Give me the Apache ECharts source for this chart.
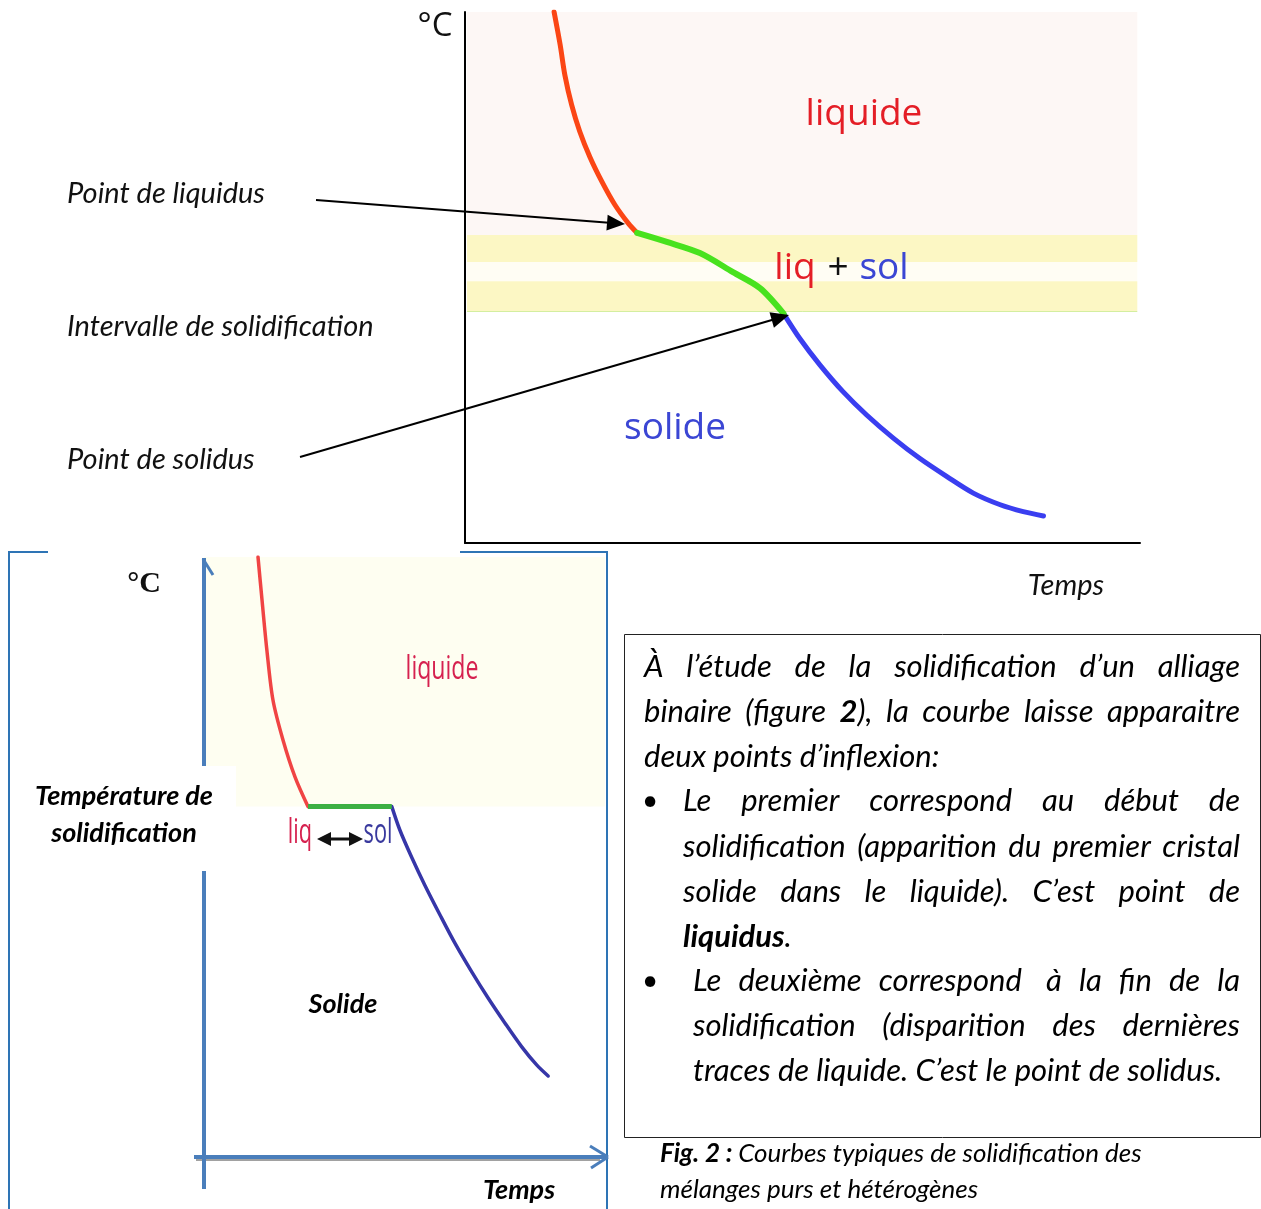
<!DOCTYPE html>
<html><head><meta charset="utf-8">
<script src="https://cdn.jsdelivr.net/npm/echarts@6/dist/echarts.min.js"></script>
<style>html,body{margin:0;padding:0;background:#fff}#c{width:1261px;height:1209px}</style>
</head><body><div id="c"></div>
<script>
// ---- data: top chart (alliage, time 0..100, temperature 0..100) ----
const topLiquidX = [13.2, 14.1, 14.8, 15.8, 17.0, 18.5, 20.3, 22.2, 24.2, 25.5];
const topLiquidT = [100, 93.8, 88.1, 82.5, 77.5, 72.7, 68.0, 63.7, 60.2, 58.4];
const topMixX = [25.5, 29.9, 34.8, 39.7, 43.7, 47.2];
const topMixT = [58.4, 56.7, 54.6, 51.0, 48.0, 43.2];
const topSolidX = [47.2, 49.6, 52.6, 56.0, 59.5, 63.5, 67.4, 71.4, 75.3, 79.3, 82.7, 85.7];
const topSolidT = [43.2, 38.5, 33.5, 28.5, 24.1, 19.7, 15.9, 12.5, 9.4, 7.2, 5.9, 5.1];
const topLiquidZone = [58.0, 100];
const topBandA = [52.9, 58.0];
const topGap = [49.3, 52.9];
const topBandB = [43.7, 49.3];
// ---- data: bottom chart (corps pur) ----
const botLiquidX = [13.4, 14.4, 15.6, 17.1, 19.6, 22.6, 25.8];
const botLiquidT = [100, 92.8, 84.5, 76.2, 69.5, 63.3, 58.4];
const botPlateauX = [25.8, 46.6];
const botPlateauT = [58.4, 58.4];
const botSolidX = [46.6, 48.6, 51.5, 54.8, 58.6, 62.3, 66.4, 70.5, 74.7, 78.8, 82.6, 85.4];
const botSolidT = [58.4, 54.5, 50.0, 45.3, 40.3, 35.6, 30.9, 26.5, 22.3, 18.4, 15.3, 13.5];
const botLiquidZone = [58.4, 100];

const zip = (xs, ys) => xs.map((x, i) => [x, ys[i]]);

const chart = echarts.init(document.getElementById('c'), null, {renderer: 'canvas'});

const ctx = document.createElement('canvas').getContext('2d');
function tw(t, font) { ctx.font = font; return ctx.measureText(t).width; }

const IT = 'italic 31px Lato';
const ITB = 'italic bold 31px Lato';
const g = [];

function txt(t, x, y, font, fill, align, extra) {
  const o = {type: 'text', x: x, y: y, z: 100, style: {text: t, x: 0, y: 0, font: font, fill: fill || '#000', textAlign: align || 'left', textVerticalAlign: 'middle'}};
  if (extra) Object.assign(o, extra);
  g.push(o);
}
function line(x1, y1, x2, y2, color, lw, z) {
  g.push({type: 'line', z: z || 90, shape: {x1, y1, x2, y2}, style: {stroke: color, lineWidth: lw, lineCap: 'butt'}});
}
function arrow(x1, y1, x2, y2, color, lw, hl, hw) {
  const dx = x2 - x1, dy = y2 - y1, L = Math.hypot(dx, dy), ux = dx / L, uy = dy / L;
  const bx = x2 - ux * hl, by = y2 - uy * hl;
  line(x1, y1, bx + ux * 2, by + uy * 2, color, lw, 95);
  g.push({type: 'polygon', z: 96, shape: {points: [[x2, y2], [bx - uy * hw, by + ux * hw], [bx + uy * hw, by - ux * hw]]}, style: {fill: color}});
}
function segs(wd) { return typeof wd === 'string' ? [[wd, false]] : wd; }
function wordW(wd) { return segs(wd).reduce((s, p) => s + tw(p[0], p[1] ? ITB : IT), 0); }
function textLine(words, x0, x1, y, justify) {
  const total = words.reduce((s, w) => s + wordW(w), 0);
  const gap = justify ? (x1 - x0 - total) / (words.length - 1) : tw(' ', IT);
  let x = x0;
  words.forEach(wd => {
    segs(wd).forEach(p => {
      const f = p[1] ? ITB : IT;
      txt(p[0], x, y, f, '#000', 'left');
      x += tw(p[0], f);
    });
    x += gap;
  });
}

// ----- top chart labels -----
const OS = '37px "Open Sans"';
txt('°C', 435, 27, '33px "Open Sans"', '#111', 'center');
txt('liquide', 864, 114, OS, '#e41e26', 'center');
txt('liq', 795, 268, OS, '#e41e26', 'center');
txt('+', 838, 268, OS, '#111', 'center');
txt('sol', 884, 268, OS, '#3b46d4', 'center');
txt('solide', 675, 428, OS, '#3b46d4', 'center');
const LF = 'italic 29px Lato';
txt('Point de liquidus', 67, 194, LF, '#111');
txt('Intervalle de solidification', 67, 327, LF, '#111');
txt('Point de solidus', 67, 460, LF, '#111');
txt('Temps', 1066, 586, LF, '#111', 'center');
arrow(316, 200, 625, 224, '#000', 2, 18, 8);
arrow(300, 457, 789, 315, '#000', 2, 18, 8);

// ----- bottom chart frame and axes -----
const BB = '#2e74b5';
line(9, 552, 48, 552, BB, 2);
line(460, 552, 607, 552, BB, 2);
line(9, 551, 9, 1209, BB, 2);
line(607, 551, 607, 1209, BB, 2);
const AX = '#4a7ebb';
line(204, 1189, 204, 558, AX, 4, 92);
line(203, 559, 213, 575, AX, 3, 92);
line(194, 1157, 607, 1157, AX, 4, 92);
line(196, 1160, 600, 1160, '#444', 1, 91);
line(590, 1146, 608, 1157, AX, 3, 92);
line(608, 1157, 591, 1168, AX, 3, 92);
g.push({type: 'rect', z: 93, shape: {x: 28, y: 766, width: 208, height: 105}, style: {fill: '#fff'}});
const BF = 'italic bold 27px Lato';
txt('Température de', 124, 796, BF, '#000', 'center');
txt('solidification', 124, 833, BF, '#000', 'center');
txt('°C', 144, 584, 'bold 30px "Liberation Serif"', '#111', 'center');
txt('liquide', 442, 670, '33px "Open Sans"', '#d6214f', 'center', {scaleX: 0.7});
txt('liq', 300, 833, '34px "Open Sans"', '#d6214f', 'center', {scaleX: 0.64});
txt('sol', 378, 833, '34px "Open Sans"', '#3a3a9e', 'center', {scaleX: 0.64});
line(327, 839, 353, 839, '#111', 3, 95);
g.push({type: 'polygon', z: 96, shape: {points: [[317, 839], [331, 832], [331, 846]]}, style: {fill: '#111'}});
g.push({type: 'polygon', z: 96, shape: {points: [[363, 839], [349, 832], [349, 846]]}, style: {fill: '#111'}});
txt('Solide', 343, 1004, BF, '#000', 'center');
txt('Temps', 519, 1190, BF, '#000', 'center');

// ----- text box -----
g.push({type: 'rect', z: 80, shape: {x: 624.5, y: 634.5, width: 636, height: 503}, style: {fill: 'none', stroke: '#222', lineWidth: 1}});
textLine(['À', 'l’étude', 'de', 'la', 'solidification', 'd’un', 'alliage'], 644, 1240, 667, true);
textLine(['binaire', '(figure', [['2', true], ['),', false]], 'la', 'courbe', 'laisse', 'apparaitre'], 644, 1240, 712, true);
textLine(['deux', 'points', 'd’inflexion:'], 644, 1240, 757, false);
txt('•', 650, 801, '28px Lato', '#000', 'center');
textLine(['Le', 'premier', 'correspond', 'au', 'début', 'de'], 683, 1240, 801, true);
textLine(['solidification', '(apparition', 'du', 'premier', 'cristal'], 683, 1240, 847, true);
textLine(['solide', 'dans', 'le', 'liquide).', 'C’est', 'point', 'de'], 683, 1240, 892, true);
textLine([[['liquidus', true], ['.', false]]], 683, 1240, 937, false);
txt('•', 650, 981, '28px Lato', '#000', 'center');
textLine(['Le', 'deuxième', 'correspond', ' à', 'la', 'fin', 'de', 'la'], 693, 1240, 981, true);
textLine(['solidification', '(disparition', 'des', 'dernières'], 693, 1240, 1026, true);
textLine(['traces', 'de', 'liquide.', 'C’est', 'le', 'point', 'de', 'solidus.'], 693, 1240, 1071, false);
// caption
const CB = 'italic bold 26px Lato', CI = 'italic 26px Lato';
txt('Fig. 2 :', 660, 1154, CB, '#000');
txt('Courbes typiques de solidification des', 660 + tw('Fig. 2 : ', CB), 1154, CI, '#000');
txt('mélanges purs et hétérogènes', 660, 1190, CI, '#000');

const hidden = {show: false};
const curve = (xi, data, color, width, z) => ({type: 'line', xAxisIndex: xi, yAxisIndex: xi, data: data, smooth: 0.3, symbol: 'none', z: z || 5, lineStyle: {color: color, width: width, cap: 'round', join: 'round'}});
const option = {
  animation: false,
  backgroundColor: '#fff',
  grid: [
    {left: 465, top: 12, width: 675, height: 531},
    {left: 204, top: 557, width: 403, height: 600}
  ],
  xAxis: [
    {type: 'value', gridIndex: 0, min: 0, max: 100, axisLine: {show: true, onZero: false, lineStyle: {color: '#000', width: 2}}, axisTick: hidden, axisLabel: hidden, splitLine: hidden},
    {type: 'value', gridIndex: 1, min: 0, max: 100, axisLine: hidden, axisTick: hidden, axisLabel: hidden, splitLine: hidden}
  ],
  yAxis: [
    {type: 'value', gridIndex: 0, min: 0, max: 100, axisLine: {show: true, onZero: false, lineStyle: {color: '#000', width: 2}}, axisTick: hidden, axisLabel: hidden, splitLine: hidden},
    {type: 'value', gridIndex: 1, min: 0, max: 100, axisLine: hidden, axisTick: hidden, axisLabel: hidden, splitLine: hidden}
  ],
  series: [
    {type: 'line', xAxisIndex: 0, yAxisIndex: 0, data: [], z: 1, silent: true,
      markArea: {silent: true, data: [
        [{coord: [0.3, topLiquidZone[1]], itemStyle: {color: '#fdf7f5'}}, {coord: [99.6, topLiquidZone[0]]}],
        [{coord: [0.3, topBandA[1]], itemStyle: {color: '#fcf7c4'}}, {coord: [99.6, topBandA[0]]}],
        [{coord: [0.3, topGap[1]], itemStyle: {color: '#fffdf4'}}, {coord: [99.6, topGap[0]]}],
        [{coord: [0.3, topBandB[1]], itemStyle: {color: '#fcf7c4'}}, {coord: [99.6, topBandB[0]]}]
      ]},
      markLine: {silent: true, symbol: 'none', label: {show: false}, lineStyle: {color: '#d4eea0', width: 1, type: 'solid'},
        data: [[{coord: [0.3, topBandB[0]]}, {coord: [99.6, topBandB[0]]}]]}
    },
    {type: 'line', xAxisIndex: 1, yAxisIndex: 1, data: [], z: 1, silent: true,
      markArea: {silent: true, data: [
        [{coord: [0, botLiquidZone[1]], itemStyle: {color: '#fefef1'}}, {coord: [99.5, botLiquidZone[0]]}]
      ]}
    },
    curve(0, zip(topLiquidX, topLiquidT), '#fb4615', 5),
    curve(0, zip(topMixX, topMixT), '#48e21e', 6, 6),
    curve(0, zip(topSolidX, topSolidT), '#3a3ef0', 5),
    curve(1, zip(botLiquidX, botLiquidT), '#f04444', 3.5),
    {type: 'line', xAxisIndex: 1, yAxisIndex: 1, data: zip(botPlateauX, botPlateauT), symbol: 'none', z: 6, lineStyle: {color: '#3cb043', width: 5}},
    curve(1, zip(botSolidX, botSolidT), '#3636a8', 3.5)
  ],
  graphic: g
};
chart.setOption(option);
</script>
</body></html>
